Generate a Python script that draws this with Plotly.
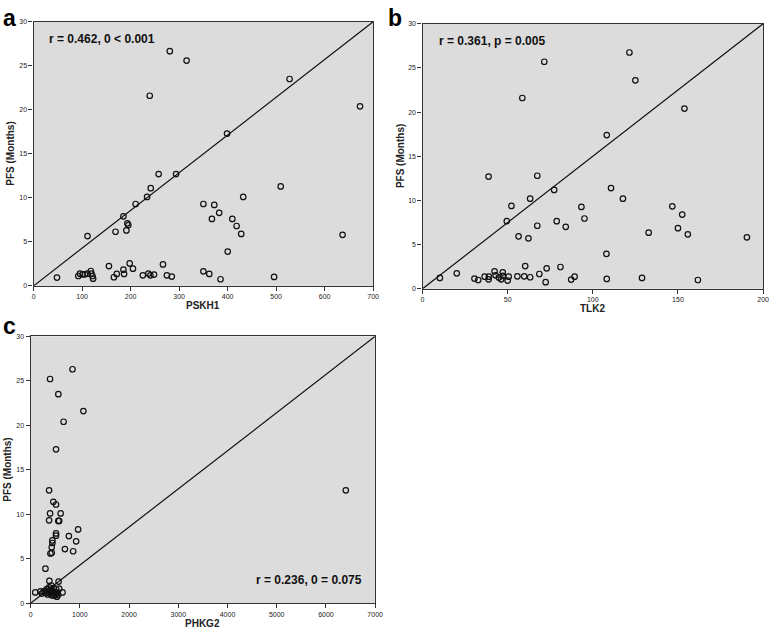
import plotly.graph_objects as go

# ---------------- data ----------------
pfs_label = "PFS (Months)"

pskh1_x = [280.8, 315.4, 239.4, 527.7, 672.9, 398.8, 257.8, 293.7, 241.5, 234.0,
           210.3, 509.4, 432.1, 350.0, 372.4, 382.6, 367.6, 409.7, 418.5, 428.0,
           636.9, 400.2, 185.2, 193.3, 195.3, 191.3, 168.9, 111.2, 48.2, 155.3,
           171.5, 165.5, 185.2, 186.5, 198.1, 204.8, 225.2, 236.7, 240.8, 248.3,
           266.7, 274.8, 284.9, 350.0, 362.2, 385.3, 495.8,
           92.2, 95.6, 101.1, 105.8, 111.3, 118.0, 119.4, 121.5, 122.7]
pskh1_y = [26.66, 25.6, 21.6, 23.5, 20.4, 17.3, 12.7, 12.7, 11.1, 10.1,
           9.3, 11.3, 10.1, 9.3, 9.2, 8.3, 7.6, 7.6, 6.8, 5.9,
           5.8, 3.9, 7.9, 7.1, 6.9, 6.3, 6.15, 5.66, 0.94, 2.25,
           1.35, 0.98, 1.84, 1.35, 2.55, 1.95, 1.2, 1.39, 1.2, 1.28,
           2.44, 1.2, 1.05, 1.65, 1.35, 0.75, 1.01,
           1.12, 1.38, 1.31, 1.31, 1.38, 1.69, 1.38, 1.12, 0.82]

tlk2_x = [121.5, 71.5, 125.0, 58.6, 153.8, 108.2, 38.8, 67.4, 77.3, 110.7,
          63.2, 117.7, 52.2, 93.3, 146.7, 49.5, 78.8, 95.1, 152.5, 67.4,
          84.1, 150.0, 155.8, 132.8, 56.4, 62.2, 190.5, 108.0, 10.2, 20.1,
          30.5, 32.7, 36.5, 38.8, 39.0, 42.3, 42.9, 44.8, 46.2, 47.1,
          47.1, 50.0, 50.6, 55.7, 60.3, 59.7, 63.2, 68.6, 72.9, 72.3,
          81.0, 87.3, 89.3, 108.2, 128.9, 161.7]
tlk2_y = [26.75, 25.7, 23.6, 21.6, 20.4, 17.4, 12.7, 12.8, 11.2, 11.4,
          10.2, 10.2, 9.38, 9.27, 9.34, 7.66, 7.66, 7.96, 8.4, 7.14,
          7.02, 6.87, 6.17, 6.35, 5.94, 5.72, 5.83, 3.96, 1.23, 1.76,
          1.16, 1.0, 1.38, 1.08, 1.38, 1.98, 1.53, 1.27, 1.08, 1.87,
          1.46, 0.93, 1.38, 1.42, 2.58, 1.42, 1.31, 1.68, 2.32, 0.75,
          2.47, 1.05, 1.38, 1.12, 1.23, 1.0]

phkg2_x = [851, 395, 563, 1072, 670, 516, 375, 6404, 462, 516,
           395, 610, 375, 563, 580, 965, 516, 516, 777, 442,
           925, 442, 429, 697, 864, 429, 402, 301, 381, 568,
           94, 648,
           200, 230, 260, 290, 310, 330, 345, 360, 375, 390,
           400, 410, 420, 430, 440, 455, 470, 480, 495, 510,
           520, 535, 545, 560, 580]
phkg2_y = [26.3, 25.2, 23.5, 21.6, 20.4, 17.3, 12.7, 12.7, 11.4, 11.1,
           10.1, 10.1, 9.33, 9.26, 9.26, 8.3, 7.85, 7.6, 7.55, 7.07,
           6.96, 6.78, 6.3, 6.1, 5.85, 5.67, 5.6, 3.89, 2.52, 2.44,
           1.22, 1.22,
           1.35, 1.1, 1.3, 1.4, 1.2, 1.6, 1.0, 1.3, 1.8, 1.1,
           1.5, 1.25, 2.0, 0.9, 1.4, 1.15, 1.7, 0.85, 1.3, 1.0,
           1.6, 0.75, 1.2, 0.95, 1.65]

panels = [
    dict(letter="a", xname="PSKH1", x=pskh1_x, y=pskh1_y, xmax=700, dtick=100,
         text="r = 0.462, 0 < 0.001"),
    dict(letter="b", xname="TLK2", x=tlk2_x, y=tlk2_y, xmax=200, dtick=50,
         text="r = 0.361, p = 0.005"),
    dict(letter="c", xname="PHKG2", x=phkg2_x, y=phkg2_y, xmax=7000, dtick=1000,
         text="r = 0.236, 0 = 0.075"),
]
ymax = 30

# ---------------- layout geometry (pixels) ----------------
W, H = 778, 635
boxes = [(32, 376, 18, 285), (426, 771, 20, 288), (29, 378, 336, 606)]
text_pos = [(101, 35), (496, 37), (311, 582)]
letter_pos = [(8, 0), (398, 0), (8, 311)]

FONT = "Liberation Sans, Arial, sans-serif"
fig = go.Figure()
annotations = []

for i, (p, box) in enumerate(zip(panels, boxes)):
    x0, x1, y0, y1 = box
    xa = "x" if i == 0 else f"x{i+1}"
    ya = "y" if i == 0 else f"y{i+1}"
    xkey = "xaxis" if i == 0 else f"xaxis{i+1}"
    ykey = "yaxis" if i == 0 else f"yaxis{i+1}"
    fig.add_trace(go.Scatter(x=[0, p["xmax"]], y=[0, ymax], mode="lines",
                             line=dict(color="#111111", width=1.2),
                             xaxis=xa, yaxis=ya, showlegend=False, hoverinfo="skip"))
    fig.add_trace(go.Scatter(x=p["x"], y=p["y"], mode="markers",
                             marker=dict(symbol="circle-open", size=5.5,
                                         color="#111111", line=dict(width=1.2)),
                             xaxis=xa, yaxis=ya, showlegend=False))
    tickfont = dict(family=FONT, size=7, color="#222222")
    fig.layout[xkey] = dict(domain=[x0 / W, x1 / W], range=[0, p["xmax"]],
                            anchor=ya, dtick=p["dtick"], tick0=0,
                            showgrid=False, zeroline=False, showline=True,
                            linecolor="#333333", linewidth=1.2, mirror=True,
                            ticks="outside", ticklen=4, tickcolor="#333333",
                            tickfont=tickfont, fixedrange=True,
                            ticklabeloverflow="allow")
    fig.layout[ykey] = dict(domain=[1 - y1 / H, 1 - y0 / H], range=[0, ymax],
                            anchor=xa, dtick=5, tick0=0,
                            showgrid=False, zeroline=False, showline=True,
                            linecolor="#333333", linewidth=1.2, mirror=True,
                            ticks="outside", ticklen=4, tickcolor="#333333",
                            tickfont=tickfont, fixedrange=True,
                            ticklabeloverflow="allow")
    # axis titles
    annotations.append(dict(text=f"<b>{p['xname']}</b>", xref="paper", yref="paper",
                            x=(x0 + x1) / 2 / W, y=1 - (y1 + 20) / H,
                            xanchor="center", yanchor="middle", showarrow=False,
                            font=dict(family=FONT, size=10, color="#222222")))
    annotations.append(dict(text=f"<b>{pfs_label}</b>", xref="paper", yref="paper",
                            x=(x0 - 23) / W, y=1 - (y0 + y1) / 2 / H, textangle=-90,
                            xanchor="center", yanchor="middle", showarrow=False,
                            font=dict(family=FONT, size=10, color="#222222")))
    # statistics text
    tx, ty = text_pos[i]
    annotations.append(dict(text=f"<b>{p['text']}</b>", xref="paper", yref="paper",
                            x=tx / W, y=1 - ty / H, xanchor="center", yanchor="middle",
                            showarrow=False,
                            font=dict(family=FONT, size=12, color="#111111")))
    # panel letter
    lx, ly = letter_pos[i]
    annotations.append(dict(text=f"<b>{p['letter']}</b>", xref="paper", yref="paper",
                            x=lx / W, y=1 - ly / H, xanchor="center", yanchor="top",
                            showarrow=False, borderpad=0,
                            font=dict(family=FONT, size=23, color="#000000")))

fig.update_layout(width=W, height=H, margin=dict(l=0, r=0, t=0, b=0),
                  paper_bgcolor="white", plot_bgcolor="#dcdcdc",
                  annotations=annotations, showlegend=False)

fig.write_html("out.html", config={"displayModeBar": False},
               post_script="document.body.style.margin='0';"
                           "document.body.style.overflow='hidden';")
